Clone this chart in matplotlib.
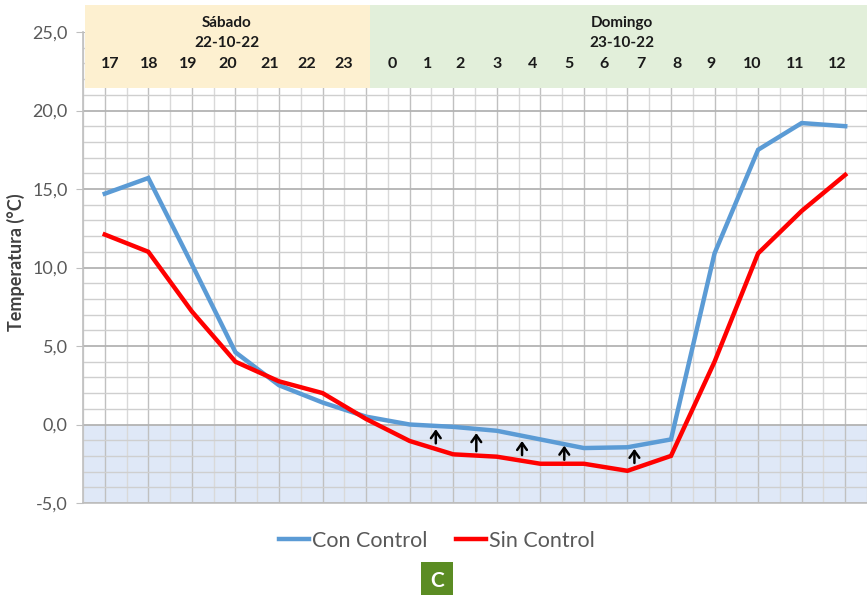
import matplotlib
matplotlib.use("Agg")
import matplotlib.pyplot as plt
from matplotlib.patches import Rectangle
from matplotlib.ticker import MultipleLocator, FuncFormatter
import numpy as np

# ---- data ----
hour_labels = ['17', '18', '19', '20', '21', '22', '23',
               '0', '1', '2', '3', '4', '5', '6', '7', '8', '9', '10', '11', '12']
con_control = [14.7, 15.7, 10.2, 4.6, 2.5, 1.4, 0.5, 0.0, -0.15, -0.4, -0.95,
               -1.5, -1.45, -0.95, 10.9, 17.5, 19.2, 19.0]
sin_control = [12.1, 11.0, 7.2, 4.0, 2.75, 2.0, 0.35, -1.05, -1.9, -2.05, -2.5,
               -2.5, -2.95, -2.0, 4.0, 10.9, 13.6, 15.9]
day_labels = ['Sábado\n22-10-22', 'Domingo\n23-10-22']
series_names = ['Con Control', 'Sin Control']
y_label = 'Temperatura (°C)'
panel_letter = 'C'

# arrow annotations (x in sample index units, y from -> to in °C)
arrow_x = [7.6, 8.53, 9.58, 10.55, 12.16]
arrow_y0 = [-1.2, -1.7, -1.95, -2.25, -2.45]
arrow_y1 = [-0.3, -0.55, -1.05, -1.35, -1.55]

# ---- layout ----
hour_label_px = [110, 149, 188, 228, 270, 307, 344, 392, 428, 460, 497,
                 533, 569, 604, 641, 677, 711, 752, 795, 837]
day_label_px = [227, 622]

plt.rcParams['font.family'] = ['Lato', 'DejaVu Sans']

W, H = 867, 595
fig = plt.figure(figsize=(W / 100, H / 100), dpi=100)
ax = fig.add_axes([83 / W, (H - 503) / H, 784 / W, 471 / H])

x = np.arange(len(con_control))
ax.set_xlim(-0.5, len(con_control) - 0.5)
ax.set_ylim(-5, 25)

def px_to_x(px):
    return -0.5 + (px - 83) / 784 * len(con_control)

def py_to_y(py):
    return -5 + (503 - py) / 471 * 30

# shaded negative region
ax.axhspan(-5, 0, color='#dfe8f7', zorder=0.2, lw=0)

# grid
ax.xaxis.set_major_locator(MultipleLocator(1))
ax.xaxis.set_minor_locator(MultipleLocator(0.5))
ax.yaxis.set_major_locator(MultipleLocator(5))
ax.yaxis.set_minor_locator(MultipleLocator(1))
ax.grid(which='major', axis='x', color='#c0c0c0', lw=1.0)
ax.grid(which='minor', axis='x', color='#d9d9d9', lw=1.0)
ax.grid(which='major', axis='y', color='#b3b3b3', lw=1.3)
ax.grid(which='minor', axis='y', color='#cfcfcf', lw=1.0)
ax.set_axisbelow(True)

ax.tick_params(axis='x', which='both', length=0, labelbottom=False)
ax.tick_params(axis='y', which='major', length=5, color='#bfbfbf',
               labelsize=13, labelcolor='#595959', pad=6)
ax.tick_params(axis='y', which='minor', length=0)
ax.yaxis.set_major_formatter(FuncFormatter(lambda v, p: f"{v:.1f}".replace('.', ',')))

for s in ['top', 'right']:
    ax.spines[s].set_visible(False)
for s in ['left', 'bottom']:
    ax.spines[s].set_color('#bfbfbf')
    ax.spines[s].set_linewidth(1.2)

fig.text(16 / W, 1 - 262 / H, y_label, rotation=90, ha='center', va='center',
         fontsize=13, fontweight='bold', color='#404040')

l1, = ax.plot(x, con_control, color='#5b9bd5', lw=3.2, label=series_names[0],
              solid_joinstyle='miter', zorder=3)
l2, = ax.plot(x, sin_control, color='#ff0000', lw=3.2, label=series_names[1],
              solid_joinstyle='miter', zorder=3)

for ax_x, a0, a1 in zip(arrow_x, arrow_y0, arrow_y1):
    ax.annotate('', xy=(ax_x, a1), xytext=(ax_x, a0),
                arrowprops=dict(arrowstyle='->,head_length=0.35,head_width=0.25',
                                color='black', lw=1.8, shrinkA=0, shrinkB=0,
                                mutation_scale=14), zorder=4)

# header band
hb = py_to_y(88)
ht = py_to_y(5)
split = px_to_x(370)
ax.add_patch(Rectangle((px_to_x(85), hb), split - px_to_x(85), ht - hb,
                       facecolor='#fdf0d0', edgecolor='none', zorder=5, clip_on=False))
ax.add_patch(Rectangle((split, hb), px_to_x(867) - split, ht - hb,
                       facecolor='#e2efda', edgecolor='none', zorder=5, clip_on=False))
for lbl, px in zip(day_labels, day_label_px):
    ax.text(px_to_x(px), py_to_y(33), lbl, ha='center', va='center', fontsize=11,
            fontweight='bold', color='#1a1a1a', linespacing=1.55, zorder=6, clip_on=False)
for lbl, px in zip(hour_labels, hour_label_px):
    ax.text(px_to_x(px), py_to_y(64), lbl, ha='center', va='center', fontsize=11.5,
            fontweight='bold', color='#1a1a1a', zorder=6, clip_on=False)

# legend
fig.legend(handles=[l1, l2], loc='center', bbox_to_anchor=(437 / W, 1 - 541 / H),
           ncol=2, frameon=False, fontsize=15.5, handlelength=1.4, handletextpad=0.15,
           columnspacing=1.3, labelcolor='#595959')

# panel letter
fig.text(437 / W, 1 - 581 / H, panel_letter, ha='center', va='center', fontsize=15,
         fontweight='bold', color='white',
         bbox=dict(boxstyle='square,pad=0.45', facecolor='#5b8c23', edgecolor='none'))

fig.savefig('out.png', dpi=100)
